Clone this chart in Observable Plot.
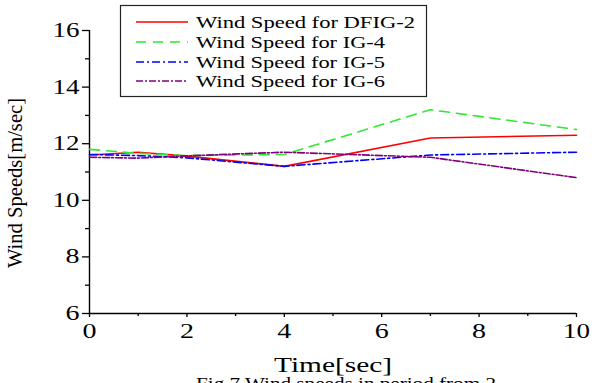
<!DOCTYPE html>
<html>
<head>
<meta charset="utf-8">
<script src="https://cdn.jsdelivr.net/npm/d3@7"></script>
<script src="https://cdn.jsdelivr.net/npm/@observablehq/plot@0.6"></script>
<style>
  html, body { margin: 0; padding: 0; background: white; overflow: hidden; }
  svg text { font-family: "Liberation Serif", "Times New Roman", serif; font-weight: normal; }
</style>
</head>
<body>
<div id="chart"></div>
<script>
// ---- data ----
const times = [0, 1, 2, 4, 7, 10];
const dfig2 = [11.6, 11.7, 11.56, 11.2, 12.2, 12.3];
const ig4   = [11.8, 11.66, 11.58, 11.62, 13.2, 12.5];
const ig5   = [11.62, 11.58, 11.5, 11.2, 11.6, 11.7];
const ig6   = [11.52, 11.49, 11.57, 11.7, 11.52, 10.8];
const seriesNames = ["Wind Speed for DFIG-2", "Wind Speed for IG-4", "Wind Speed for IG-5", "Wind Speed for IG-6"];
const seriesValues = [dfig2, ig4, ig5, ig6];
const colors = ["#ff0000", "#2ee82e", "#0000ff", "#800080"];
const dashes = ["none", "10,7", "8,3,2,3", "7,2,2,2"];
const xTicks = [0, 2, 4, 6, 8, 10];
const xMinor = [1, 3, 5, 7, 9];
const yTicks = [6, 8, 10, 12, 14, 16];
const yMinor = [7, 9, 11, 13, 15];
const xLabel = "Time[sec]";
const yLabel = "Wind Speeds[m/sec]";
const caption = "Fig.7 Wind speeds in period from 2";

const lineMarks = seriesValues.map((vals, i) =>
  Plot.line(times.map((t, j) => ({t, v: vals[j]})), {
    x: "t", y: "v", stroke: colors[i], strokeWidth: 1.6,
    strokeDasharray: dashes[i] === "none" ? undefined : dashes[i]
  })
);

const plot = Plot.plot({
  width: 592, height: 383,
  marginLeft: 89, marginRight: 16, marginTop: 30, marginBottom: 70,
  x: {domain: [0, 10]},
  y: {domain: [6, 16]},
  style: {fontFamily: "Liberation Serif", fontSize: "20px", color: "black", background: "white", overflow: "hidden"},
  marks: [
    Plot.axisX({ticks: xTicks, tickSize: 4, tickPadding: 6, label: null, strokeWidth: 1.3}),
    Plot.axisX({ticks: xMinor, tickSize: 3, tickFormat: () => "", label: null, strokeWidth: 1.3}),
    Plot.axisY({ticks: yTicks, tickSize: 7, tickPadding: 3, label: null, strokeWidth: 1.3}),
    Plot.axisY({ticks: yMinor, tickSize: 4, tickFormat: () => "", label: null, strokeWidth: 1.3}),
    Plot.ruleY([6], {stroke: "black", strokeWidth: 1.4}),
    Plot.ruleX([0], {stroke: "black", strokeWidth: 1.4}),
    ...lineMarks
  ]
});

document.getElementById("chart").append(plot);
const svg = d3.select(plot);

// stretch tick labels horizontally to match reference proportions
svg.selectAll('g[aria-label="x-axis tick label"] text, g[aria-label="y-axis tick label"] text').each(function() {
  const n = this.textContent.length;
  this.setAttribute("textLength", n === 1 ? 14 : 27);
  this.setAttribute("lengthAdjust", "spacingAndGlyphs");
});

function stretchedText(g, str, x, y, size, len, anchor) {
  return g.append("text").attr("x", x).attr("y", y).attr("font-size", size)
    .attr("fill", "black").attr("text-anchor", anchor || "start")
    .attr("textLength", len).attr("lengthAdjust", "spacingAndGlyphs").text(str);
}

// legend
const lg = svg.append("g");
lg.append("rect").attr("x", 120.5).attr("y", 5.5).attr("width", 306).attr("height", 91)
  .attr("fill", "white").attr("stroke", "#222").attr("stroke-width", 1.2);
const rowY = [22, 42, 62, 81];
const legendLen = [219, 189, 189, 189];
seriesNames.forEach((name, i) => {
  lg.append("line").attr("x1", 136).attr("x2", 188).attr("y1", rowY[i]).attr("y2", rowY[i])
    .attr("stroke", colors[i]).attr("stroke-width", 1.6)
    .attr("stroke-dasharray", dashes[i] === "none" ? null : dashes[i]);
  stretchedText(lg, name, 196, rowY[i] + 5.5, 16, legendLen[i]);
});

// axis labels
stretchedText(svg, xLabel, 333, 372, 21, 118, "middle");
svg.append("text").attr("transform", "translate(22,183) rotate(-90)")
  .attr("text-anchor", "middle").attr("font-size", 20.5).attr("fill", "black")
  .attr("textLength", 170).attr("lengthAdjust", "spacingAndGlyphs").text(yLabel);

// caption (cut off at the bottom, as in the reference)
stretchedText(svg, caption, 196, 389, 16, 300);
</script>
</body>
</html>
